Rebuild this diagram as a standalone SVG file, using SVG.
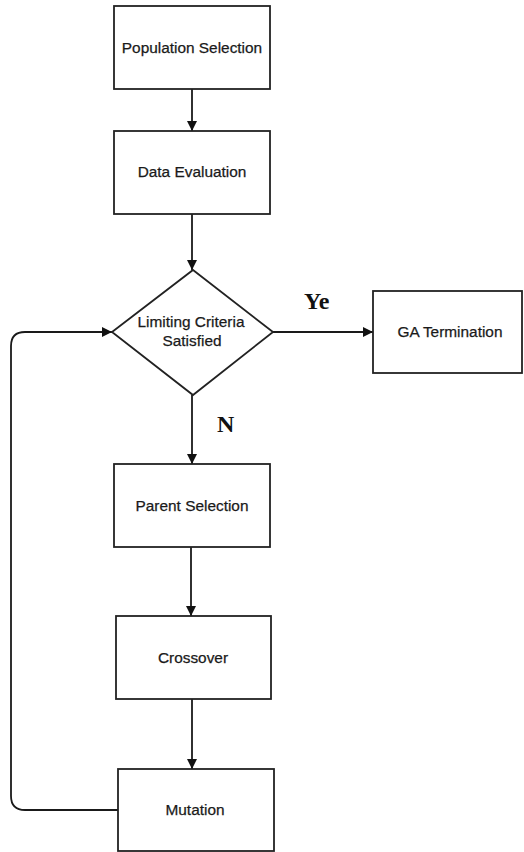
<svg xmlns="http://www.w3.org/2000/svg" width="524" height="852" viewBox="0 0 524 852">
  <style>
    .box { fill: #ffffff; stroke: #222222; stroke-width: 1.8; }
    .lbl { font-family: "Liberation Sans", Arial, sans-serif; font-size: 15.4px; fill: #1a1a1a; stroke: #1a1a1a; stroke-width: 0.25; text-anchor: middle; }
    .tag { font-family: "Liberation Serif", "Times New Roman", serif; font-size: 24px; font-weight: bold; fill: #111111; }
    .edge { fill: none; stroke: #1a1a1a; stroke-width: 1.8; }
  </style>
  <defs>
    <marker id="arrow" viewBox="0 0 10 10" refX="10" refY="5" markerWidth="10" markerHeight="10" markerUnits="userSpaceOnUse" orient="auto">
      <path d="M0,0 L10,5 L0,10 Z" fill="#111111"/>
    </marker>
  </defs>
  <rect width="524" height="852" fill="#ffffff"/>

  <g id="connectors">
    <line class="edge" x1="192" y1="89" x2="192" y2="131" marker-end="url(#arrow)"/>
    <line class="edge" x1="192" y1="214" x2="192" y2="270" marker-end="url(#arrow)"/>
    <line class="edge" x1="273" y1="332" x2="373" y2="332" marker-end="url(#arrow)"/>
    <line class="edge" x1="192" y1="395" x2="192" y2="464" marker-end="url(#arrow)"/>
    <line class="edge" x1="191" y1="547" x2="191" y2="616" marker-end="url(#arrow)"/>
    <line class="edge" x1="192" y1="699" x2="192" y2="769" marker-end="url(#arrow)"/>
    <path class="edge" d="M118,810 H25 Q11,810 11,796 V346 Q11,332 25,332 H112" marker-end="url(#arrow)"/>
    <text class="tag" x="304" y="309">Ye</text>
    <text class="tag" x="217" y="432">N</text>
  </g>

  <g id="population-selection">
    <rect class="box" x="114" y="6" width="156" height="83"/>
    <text class="lbl" x="192" y="53">Population Selection</text>
  </g>
  <g id="data-evaluation">
    <rect class="box" x="114" y="131" width="156" height="83"/>
    <text class="lbl" x="192" y="177">Data Evaluation</text>
  </g>
  <g id="limiting-criteria">
    <polygon class="box" points="193,270 273,332 193,395 112,332"/>
    <text class="lbl" x="191" y="327">Limiting Criteria</text>
    <text class="lbl" x="192" y="346">Satisfied</text>
  </g>
  <g id="ga-termination">
    <rect class="box" x="373" y="291" width="149" height="82"/>
    <text class="lbl" x="450" y="337">GA Termination</text>
  </g>
  <g id="parent-selection">
    <rect class="box" x="114" y="464" width="156" height="83"/>
    <text class="lbl" x="192" y="511">Parent Selection</text>
  </g>
  <g id="crossover">
    <rect class="box" x="116" y="616" width="155" height="83"/>
    <text class="lbl" x="193" y="663">Crossover</text>
  </g>
  <g id="mutation">
    <rect class="box" x="118" y="769" width="156" height="82"/>
    <text class="lbl" x="195" y="815">Mutation</text>
  </g>
</svg>
